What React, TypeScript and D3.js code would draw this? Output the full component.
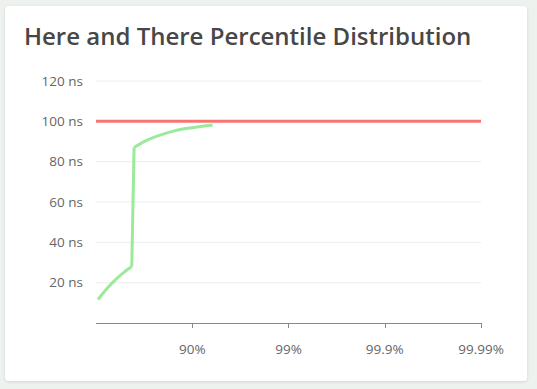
import React from 'react';
import * as d3 from 'd3';

// percentile (0-1) and latency in ns
const percentiles = [0.047, 0.223, 0.366, 0.483, 0.575, 0.598, 0.691, 0.776, 0.85, 0.899, 0.9386];
const latencies = [11.65, 16.9, 21.3, 25.0, 28.0, 87.1, 90.2, 92.9, 95.4, 96.8, 98.2];
const threshold = 100;
const yTicks = [20, 40, 60, 80, 100, 120];
const xTicks = [0.9, 0.99, 0.999, 0.9999];
const xTickLabels = ['90%', '99%', '99.9%', '99.99%'];

const W = 537;
const H = 389;
const FONT = '"Open Sans", sans-serif';

const App: React.FC = () => {
  const left = 96, right = 481, top = 81, bottom = 323;

  // log scale on 1/(1-p)
  const xs = d3.scaleLog().domain([1, 10000]).range([left, right]);
  const x = (p: number) => xs(1 / (1 - p));
  const y = d3.scaleLinear().domain([0, 120]).range([bottom, top]);

  const pts: [number, number][] = percentiles.map((p, i) => [x(p), y(latencies[i])]);
  const smooth = d3.line<[number, number]>().curve(d3.curveMonotoneX);
  const lower = smooth(pts.slice(0, 5))!;
  const upper = smooth(pts.slice(5))!;
  const jump = d3.line<[number, number]>()([pts[4], pts[5]])!;

  return (
    <div style={{ position: 'fixed', left: 0, top: 0, width: W, height: H, background: '#eef2ef' }}>
      <svg width={W} height={H} style={{ display: 'block' }}>
        <defs>
          <filter id="sh" x="-5%" y="-5%" width="110%" height="110%">
            <feDropShadow dx="0" dy="1" stdDeviation="1.5" floodColor="#000" floodOpacity="0.12" />
          </filter>
        </defs>
        <rect x={5} y={6} width={522} height={375} rx={4} fill="#fff" filter="url(#sh)" />
        <text x={24} y={45} fontFamily={FONT} fontSize={24} fontWeight={600} fill="#474747">
          Here and There Percentile Distribution
        </text>

        {yTicks.map(t => (
          <g key={t}>
            <line x1={left} x2={right} y1={y(t)} y2={y(t)} stroke="#ececec" strokeWidth={1} />
            <text x={83} y={y(t)} dy="0.35em" textAnchor="end" fontFamily={FONT} fontSize={13.5} fill="#666">
              {t} ns
            </text>
          </g>
        ))}

        <line x1={left} x2={right} y1={bottom + 0.5} y2={bottom + 0.5} stroke="#888" strokeWidth={1} />
        {xTicks.map((t, i) => (
          <g key={t}>
            <line x1={Math.round(x(t)) + 0.5} x2={Math.round(x(t)) + 0.5} y1={bottom} y2={bottom + 5} stroke="#888" />
            <text x={x(t)} y={354} textAnchor="middle" fontFamily={FONT} fontSize={13.5} fill="#666">
              {xTickLabels[i]}
            </text>
          </g>
        ))}

        <line x1={left} x2={right} y1={y(threshold)} y2={y(threshold)} stroke="#f87474" strokeWidth={3} />

        <g fill="none" stroke="#9bea9b" strokeWidth={3} strokeLinejoin="round">
          <path d={lower} />
          <path d={jump} />
          <path d={upper} />
        </g>
      </svg>
    </div>
  );
};

export default App;
